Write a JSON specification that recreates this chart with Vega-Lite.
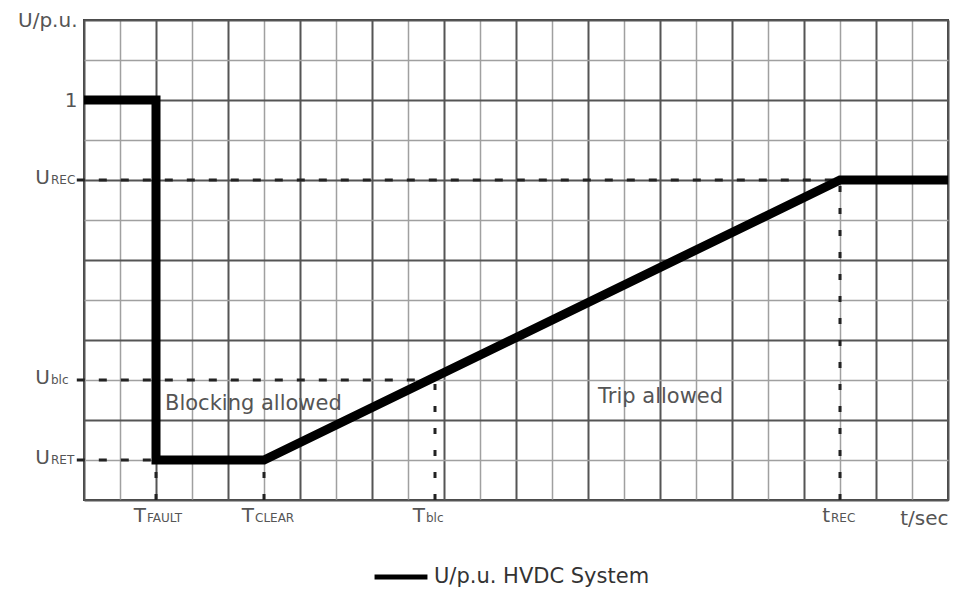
{
  "$schema": "https://vega.github.io/schema/vega-lite/v6.json",
  "width": 864,
  "height": 480,
  "autosize": {"type": "none"},
  "padding": {"left": 84, "top": 20, "right": 13, "bottom": 89},
  "background": "white",
  "config": {
    "font": "DejaVu Sans",
    "view": {"stroke": "#444", "strokeWidth": 2}
  },
  "datasets": {
    "curve": [
      {"t": 0, "u": 1, "series": "U/p.u. HVDC System"},
      {"t": 2, "u": 1, "series": "U/p.u. HVDC System"},
      {"t": 2, "u": 0.1, "series": "U/p.u. HVDC System"},
      {"t": 5, "u": 0.1, "series": "U/p.u. HVDC System"},
      {"t": 21, "u": 0.8, "series": "U/p.u. HVDC System"},
      {"t": 24, "u": 0.8, "series": "U/p.u. HVDC System"}
    ],
    "hguides": [
      {"t": -0.2, "t2": 21, "u": 0.8},
      {"t": -0.2, "t2": 9.75, "u": 0.3},
      {"t": -0.2, "t2": 2, "u": 0.1}
    ],
    "vguides": [
      {"t": 2, "u": 0, "u2": 0.1},
      {"t": 5, "u": 0, "u2": 0.1},
      {"t": 9.75, "u": 0, "u2": 0.3},
      {"t": 21, "u": 0, "u2": 0.8}
    ],
    "ylabels": [
      {"main": "U", "sub": "REC", "t": 0, "u": 0.8},
      {"main": "U", "sub": "blc", "t": 0, "u": 0.3},
      {"main": "U", "sub": "RET", "t": 0, "u": 0.1}
    ],
    "xlabels": [
      {"main": "T", "sub": "FAULT", "t": 2, "u": 0},
      {"main": "T", "sub": "CLEAR", "t": 5, "u": 0},
      {"main": "T", "sub": "blc", "t": 9.75, "u": 0},
      {"main": "t", "sub": "REC", "t": 21, "u": 0}
    ],
    "notes": [
      {"text": "Blocking allowed", "t": 2.25, "u": 0.225},
      {"text": "Trip allowed", "t": 14.28, "u": 0.2425}
    ]
  },
  "resolve": {"axis": {"x": "independent", "y": "independent"}},
  "layer": [
    {
      "data": {"name": "vguides"},
      "mark": {"type": "rule", "strokeDash": [6, 16], "strokeWidth": 3, "color": "#222"},
      "encoding": {
        "x": {
          "field": "t", "type": "quantitative",
          "scale": {"domain": [0, 24], "nice": false, "zero": false},
          "axis": {
            "title": null,
            "values": [1,3,5,7,9,11,13,15,17,19,21,23],
            "grid": true,
            "gridColor": "#a0a0a0",
            "gridWidth": 1.5,
            "ticks": false,
            "domain": false,
            "labels": false
          }
        },
        "y": {
          "field": "u", "type": "quantitative",
          "scale": {"domain": [0, 1.2], "nice": false, "zero": false},
          "axis": {
            "title": null,
            "values": [0.1, 0.3, 0.5, 0.7, 0.9, 1.1],
            "grid": true,
            "gridColor": "#a0a0a0",
            "gridWidth": 1.5,
            "ticks": false,
            "domain": false,
            "labels": false
          }
        },
        "y2": {"field": "u2"}
      }
    },
    {
      "data": {"name": "hguides"},
      "mark": {"type": "rule", "strokeDash": [8, 14], "strokeWidth": 3, "color": "#222"},
      "encoding": {
        "x": {
          "field": "t", "type": "quantitative",
          "axis": {
            "title": null,
            "orient": "bottom",
            "values": [0,2,4,6,8,10,12,14,16,18,20,22,24],
            "grid": true,
            "gridColor": "#555",
            "gridWidth": 2,
            "ticks": false,
            "domain": false,
            "labelExpr": "datum.value == 24 ? 't/sec' : ''",
            "labelAlign": "right",
            "labelDx": 7,
            "labelPadding": 8,
            "labelFontSize": 20,
            "labelColor": "#555",
            "labelFlush": false,
            "labelBound": false,
            "labelOverlap": false
          }
        },
        "x2": {"field": "t2"},
        "y": {
          "field": "u", "type": "quantitative",
          "axis": {
            "title": null,
            "orient": "left",
            "values": [0, 0.2, 0.4, 0.6, 0.8, 1, 1.2],
            "grid": true,
            "gridColor": "#555",
            "gridWidth": 2,
            "ticks": false,
            "domain": false,
            "labelExpr": "datum.value == 1 ? '1' : (datum.value == 1.2 ? 'U/p.u.' : '')",
            "labelPadding": 7,
            "labelFontSize": 20,
            "labelColor": "#555",
            "labelFlush": false,
            "labelBound": false,
            "labelOverlap": false
          }
        }
      }
    },
    {
      "data": {"name": "curve"},
      "mark": {"type": "line", "strokeWidth": 9, "strokeJoin": "miter", "strokeCap": "butt"},
      "encoding": {
        "x": {"field": "t", "type": "quantitative", "axis": null},
        "y": {"field": "u", "type": "quantitative", "axis": null},
        "color": {
          "field": "series", "type": "nominal",
          "scale": {"range": ["black"]},
          "legend": {
            "orient": "none",
            "legendX": 288,
            "legendY": 528,
            "direction": "horizontal",
            "title": null,
            "symbolType": "stroke",
            "symbolStrokeWidth": 5,
            "symbolSize": 2800,
            "labelFontSize": 21,
            "labelColor": "#333",
            "labelLimit": 400
          }
        }
      }
    },
    {
      "data": {"name": "notes"},
      "mark": {"type": "text", "align": "left", "baseline": "alphabetic", "fontSize": 21, "color": "#555"},
      "encoding": {
        "x": {"field": "t", "type": "quantitative", "axis": null},
        "y": {"field": "u", "type": "quantitative", "axis": null},
        "text": {"field": "text"}
      }
    },
    {
      "data": {"name": "ylabels"},
      "mark": {"type": "text", "align": "right", "baseline": "alphabetic", "fontSize": 20, "color": "#555", "dx": -34, "dy": 4},
      "encoding": {
        "x": {"field": "t", "type": "quantitative", "axis": null},
        "y": {"field": "u", "type": "quantitative", "axis": null},
        "text": {"field": "main"}
      }
    },
    {
      "data": {"name": "ylabels"},
      "mark": {"type": "text", "align": "left", "baseline": "alphabetic", "fontSize": 12, "color": "#555", "dx": -33, "dy": 4},
      "encoding": {
        "x": {"field": "t", "type": "quantitative", "axis": null},
        "y": {"field": "u", "type": "quantitative", "axis": null},
        "text": {"field": "sub"}
      }
    },
    {
      "data": {"name": "xlabels"},
      "mark": {"type": "text", "align": "right", "baseline": "alphabetic", "fontSize": 20, "color": "#555", "dx": -10, "dy": 22},
      "encoding": {
        "x": {"field": "t", "type": "quantitative", "axis": null},
        "y": {"field": "u", "type": "quantitative", "axis": null},
        "text": {"field": "main"}
      }
    },
    {
      "data": {"name": "xlabels"},
      "mark": {"type": "text", "align": "left", "baseline": "alphabetic", "fontSize": 12, "color": "#555", "dx": -9, "dy": 22},
      "encoding": {
        "x": {"field": "t", "type": "quantitative", "axis": null},
        "y": {"field": "u", "type": "quantitative", "axis": null},
        "text": {"field": "sub"}
      }
    }
  ]
}
